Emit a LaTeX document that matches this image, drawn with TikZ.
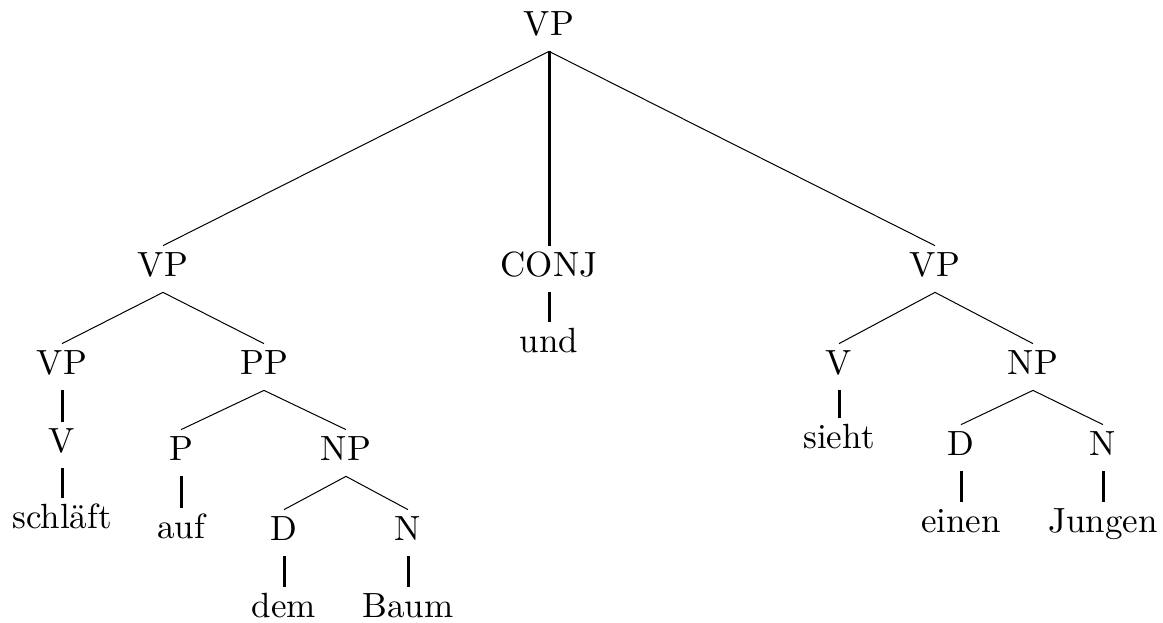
\documentclass[tikz,border=0pt]{standalone}
\usepackage{fontspec}
\newfontfamily\treefont{lmroman10-regular.otf}

\tikzset{every picture/.style={line width=0.75pt}}
\tikzset{
	cat/.style={anchor=base, inner xsep=2pt, inner ysep=6pt, text height=24pt, text depth=10pt, font=\treefont\fontsize{35}{40}\selectfont},
	branch/.style={line width=1pt},
	unary/.style={line width=3pt}}

\begin{document}
\begin{tikzpicture}[x=1pt,y=1pt,yscale=-1]
	%set diagram left start at 0, and has height of 622
	\useasboundingbox (0,0) rectangle (1163,622);
	
	% Text Node
	\node [cat] (root) at (549,35) {VP};
	% Text Node
	\node [cat] (vpA) at (163,276) {VP};
	\node [cat] (conj) at (549,276) {CONJ};
	\node [cat] (vpB) at (935,276) {VP};
	% Text Node
	\node [cat] (vpA1) at (62,374) {VP};
	\node [cat] (ppA) at (264,374) {PP};
	\node [cat] (und) at (549,352) {und};
	\node [cat] (vB) at (839,374) {V};
	\node [cat] (npB) at (1033,374) {NP};
	% Text Node
	\node [cat] (vA) at (62,452) {V};
	\node [cat] (pA) at (181,460) {P};
	\node [cat] (npA) at (346,460) {NP};
	\node [cat] (sieht) at (839,448) {sieht};
	\node [cat] (dB) at (961,455) {D};
	\node [cat] (nB) at (1103,455) {N};
	% Text Node
	\node [cat] (schlaeft) at (62,528) {schläft};
	\node [cat] (auf) at (181,538) {auf};
	\node [cat] (dA) at (284,540) {D};
	\node [cat] (nA) at (408,540) {N};
	\node [cat] (einen) at (961,532) {einen};
	\node [cat] (jungen) at (1103,532) {Jungen};
	% Text Node
	\node [cat] (dem) at (284,617) {dem};
	\node [cat] (baum) at (408,617) {Baum};
	
	%Straight Lines
	\draw [branch] (root.south) -- (vpA.north);
	\draw [unary] (root.south) -- (conj.north);
	\draw [branch] (root.south) -- (vpB.north);
	%Straight Lines
	\draw [branch] (vpA.south) -- (vpA1.north);
	\draw [branch] (vpA.south) -- (ppA.north);
	\draw [unary] (conj.south) -- (und.north);
	\draw [branch] (vpB.south) -- (vB.north);
	\draw [branch] (vpB.south) -- (npB.north);
	%Straight Lines
	\draw [unary] (vpA1.south) -- (vA.north);
	\draw [unary] (vA.south) -- (schlaeft.north);
	\draw [branch] (ppA.south) -- (pA.north);
	\draw [branch] (ppA.south) -- (npA.north);
	\draw [unary] (pA.south) -- (auf.north);
	\draw [branch] (npA.south) -- (dA.north);
	\draw [branch] (npA.south) -- (nA.north);
	\draw [unary] (dA.south) -- (dem.north);
	\draw [unary] (nA.south) -- (baum.north);
	%Straight Lines
	\draw [unary] (vB.south) -- (sieht.north);
	\draw [branch] (npB.south) -- (dB.north);
	\draw [branch] (npB.south) -- (nB.north);
	\draw [unary] (dB.south) -- (einen.north);
	\draw [unary] (nB.south) -- (jungen.north);
	
\end{tikzpicture}
\end{document}
